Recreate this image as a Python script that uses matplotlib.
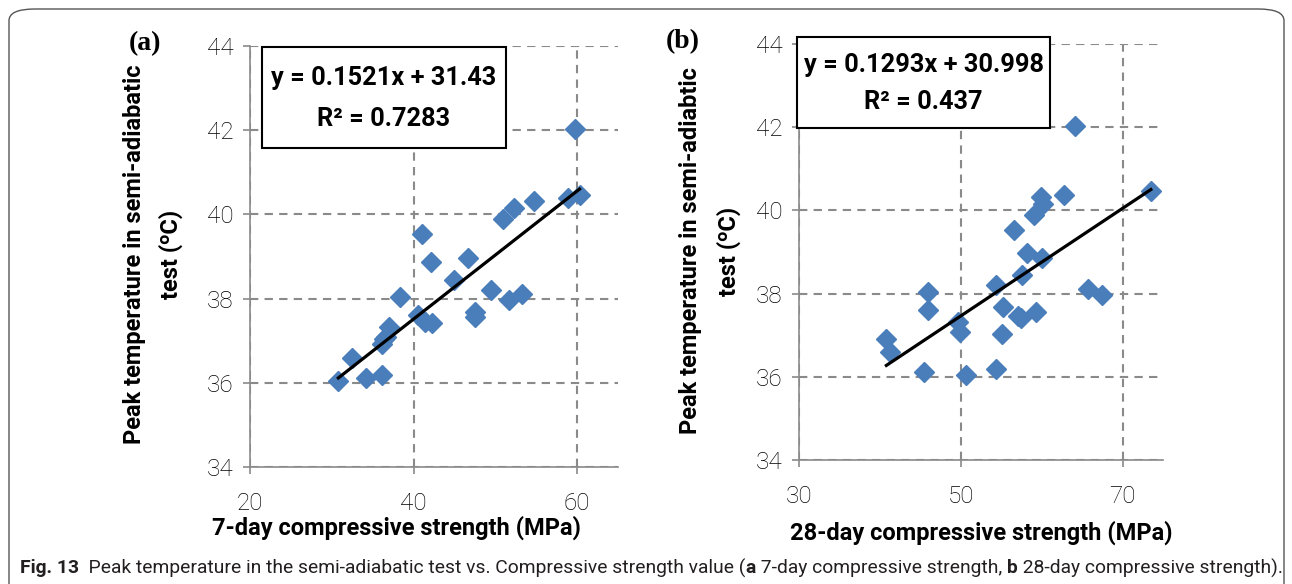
import numpy as np
import matplotlib
matplotlib.use("Agg")
import matplotlib.pyplot as plt
from matplotlib.patches import Rectangle, FancyBboxPatch

# peak temperature in semi-adiabatic test (degC), same specimens in both panels
peak_temp = [42.03, 40.47, 40.38, 40.32, 40.15, 39.88, 39.53, 38.97, 38.86,
             38.44, 38.20, 38.11, 37.97, 38.03, 37.68, 37.60, 37.56, 37.45,
             37.42, 37.32, 37.08, 37.03, 36.91, 36.60, 36.05, 36.11, 36.18]
strength_7d = [59.8, 60.3, 58.9, 54.7, 52.3, 50.9, 41.0, 46.7, 42.1,
               45.0, 49.5, 53.2, 51.7, 38.3, 47.5, 40.6, 47.5, 41.4,
               42.3, 37.0, 36.6, 36.4, 36.1, 32.5, 30.8, 34.2, 36.1]
strength_28d = [64.1, 73.5, 62.7, 59.9, 60.2, 59.0, 56.6, 58.2, 60.1,
                57.6, 54.4, 65.7, 67.4, 45.9, 55.2, 45.9, 59.3, 57.1,
                57.5, 49.6, 49.9, 55.1, 40.8, 41.2, 50.6, 45.5, 54.4]

# linear trend lines as printed on the chart
fit_7d = (0.1521, 31.43)
fit_28d = (0.1293, 30.998)
eq_7d = ["y = 0.1521x + 31.43", "R² = 0.7283"]
eq_28d = ["y = 0.1293x + 30.998", "R² = 0.437"]

yticks = [34, 36, 38, 40, 42, 44]
xticks_7d = [20, 40, 60]
xticks_28d = [30, 50, 70]

W, H = 1292, 584
FONT = ['Roboto', 'DejaVu Sans']
BLUE = '#4A7EBB'
GRID = '#8A8A8A'

plt.rcParams['font.family'] = FONT


def fx(px):
    return px / W


def fy(py):
    return 1 - py / H


def pixel_axes(fig, left, top, right, bottom):
    return fig.add_axes([fx(left), fy(bottom), (right - left) / W, (bottom - top) / H])


def draw_panel(ax, x, y, fit, xticks, xlim):
    ax.plot(x, y, linestyle='none', marker='D', ms=10.5, color=BLUE, mec=BLUE, zorder=3)
    xs = np.array([min(x), max(x)])
    ax.plot(xs, fit[0] * xs + fit[1], color='black', lw=2.3, zorder=4)

    ax.set_xlim(*xlim)
    ax.set_ylim(34, 44)
    ax.set_xticks(xticks)
    ax.set_yticks(yticks)
    ax.grid(True, color=GRID, linestyle=(0, (4, 3)), lw=1.5)
    ax.set_axisbelow(True)
    for side in ['top', 'right']:
        ax.spines[side].set_visible(False)
    for side in ['left', 'bottom']:
        ax.spines[side].set_color(GRID)
        ax.spines[side].set_linewidth(1.2)
    ax.tick_params(direction='out', length=5, width=1.2, color=GRID,
                   labelsize=17.5, labelcolor='black')
    ax.tick_params(axis='y', pad=7)
    ax.tick_params(axis='x', pad=13)
    for lab in ax.get_xticklabels() + ax.get_yticklabels():
        lab.set_fontweight('light')


def eq_box(fig, left, top, right, bottom, lines):
    fig.add_artist(Rectangle((fx(left), fy(bottom)), (right - left) / W, (bottom - top) / H,
                             transform=fig.transFigure, facecolor='white',
                             edgecolor='black', lw=1.5, zorder=5))
    cx = fx((left + right) / 2)
    h = bottom - top
    fig.text(cx, fy(top + h * 0.31), lines[0], ha='center', va='center',
             fontsize=18.3, weight='bold', zorder=6)
    fig.text(cx, fy(top + h * 0.71), lines[1], ha='center', va='center',
             fontsize=18.3, weight='bold', zorder=6)


def draw_runs(fig, x, y, runs, **kw):
    renderer = fig.canvas.get_renderer()
    for txt, weight in runs:
        t = fig.text(x, y, txt, weight=weight, **kw)
        bb = t.get_window_extent(renderer)
        x += bb.width / fig.bbox.width


fig = plt.figure(figsize=(W / 100, H / 100), dpi=100)

# rounded frame around the figure
fig.add_artist(FancyBboxPatch((fx(9), fy(640)), (1284 - 9) / W, (640 - 9) / H,
                              boxstyle='round,pad=0,rounding_size=0.02',
                              transform=fig.transFigure, facecolor='none',
                              edgecolor='#555555', lw=1.0, zorder=0))

ax1 = pixel_axes(fig, 250, 46, 618, 467)
draw_panel(ax1, strength_7d, peak_temp, fit_7d, xticks_7d, (20, 65))
ax2 = pixel_axes(fig, 799, 44, 1163, 460)
draw_panel(ax2, strength_28d, peak_temp, fit_28d, xticks_28d, (30, 75))

eq_box(fig, 262, 47, 506, 148, eq_7d)
eq_box(fig, 797, 37, 1050, 128, eq_28d)

# panel letters
fig.text(fx(145), fy(44), '(a)', family='Liberation Serif', weight='bold',
         fontsize=20, ha='center', va='center')
fig.text(fx(683), fy(42), '(b)', family='Liberation Serif', weight='bold',
         fontsize=20, ha='center', va='center')

# axis titles
ylab_kw = dict(rotation=90, ha='center', va='center', fontsize=17, weight='bold')
fig.text(fx(134), fy(254), 'Peak temperature in semi-adiabatic', **ylab_kw)
fig.text(fx(171), fy(254), 'test (ᵒC)', **ylab_kw)
fig.text(fx(691), fy(251), 'Peak temperature in semi-adiabtic', **ylab_kw)
fig.text(fx(729), fy(251), 'test (ᵒC)', **ylab_kw)

fig.text(fx(396), fy(528), '7-day compressive strength (MPa)', ha='center',
         va='center', fontsize=17, weight='bold')
fig.text(fx(981), fy(533), '28-day compressive strength (MPa)', ha='center',
         va='center', fontsize=17, weight='bold')

# caption
caption = [('Fig. 13', 'bold'),
           ('  Peak temperature in the semi-adiabatic test vs. Compressive strength value (', 'normal'),
           ('a', 'bold'),
           (' 7-day compressive strength, ', 'normal'),
           ('b', 'bold'),
           (' 28-day compressive strength).', 'normal')]
draw_runs(fig, fx(20), fy(568), caption, va='center', fontsize=13.9, color='#231F20')

fig.savefig('out.png', dpi=100)
